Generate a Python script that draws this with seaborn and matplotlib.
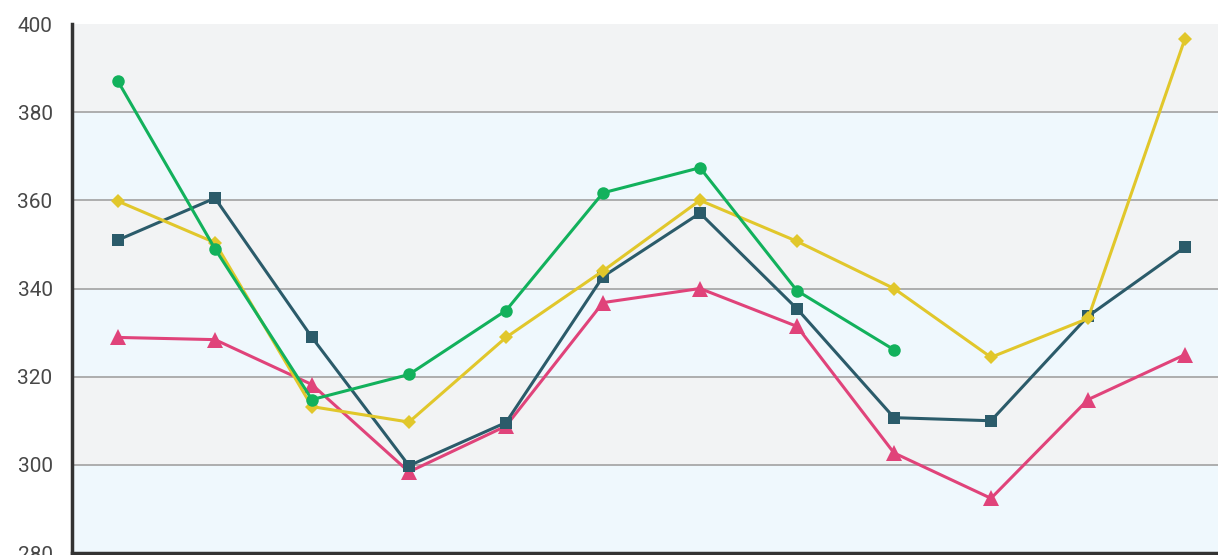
import pandas as pd
import matplotlib
matplotlib.use("Agg")
import matplotlib.pyplot as plt
import seaborn as sns

# Werte (12 Punkte pro Serie, Gruen endet nach Punkt 9)
points = list(range(12))
pink_values = [328.9, 328.4, 318.2, 298.4, 308.8, 336.8, 340.0, 331.4, 302.7, 292.4, 314.8, 325.0]
teal_values = [351.0, 360.5, 328.9, 299.8, 309.6, 342.7, 357.1, 335.4, 310.7, 310.0, 333.7, 349.4]
yellow_values = [359.8, 350.4, 313.2, 309.7, 328.9, 344.0, 360.0, 350.7, 340.0, 324.4, 333.2, 396.7]
green_values = [387.0, 349.0, 314.8, 320.5, 335.0, 361.7, 367.4, 339.5, 326.1, None, None, None]

y_ticks = [280, 300, 320, 340, 360, 380, 400]

series = [
    ("pink", pink_values, "#e0437a", "^", 11),
    ("teal", teal_values, "#2b5b6a", "s", 9),
    ("yellow", yellow_values, "#e1c72b", "D", 7),
    ("green", green_values, "#12b15c", "o", 9),
]

sns.set_style("white")
plt.rcParams['font.family'] = ['Roboto', 'DejaVu Sans']

fig = plt.figure(figsize=(12.18, 5.55), dpi=100)
ax = fig.add_axes([72 / 1218, 2 / 555, 1 - 72 / 1218, 529 / 555])

# abwechselnde Hintergrundbaender
band_colors = ["#eff8fd", "#f2f3f4"]
for i in range(len(y_ticks) - 1):
    ax.axhspan(y_ticks[i], y_ticks[i + 1], color=band_colors[i % 2], zorder=0, lw=0)
for t in y_ticks[1:-1]:
    ax.axhline(t, color="#a8a8a8", lw=1.3, zorder=1)

for name, vals, col, mk, ms in series:
    d = pd.DataFrame({"x": points, "y": vals}).dropna()
    sns.lineplot(data=d, x="x", y="y", ax=ax, color=col, marker=mk,
                 markersize=ms, markeredgewidth=0, linewidth=2.2, zorder=3)

ax.set_xlim(-0.474, 11.34)
ax.set_ylim(280, 400)
ax.set_yticks(y_ticks)
ax.set_xticks([])
ax.set_xlabel("")
ax.set_ylabel("")
ax.tick_params(axis="y", length=0, pad=14, labelsize=15, labelcolor="#484848")

for s in ["top", "right"]:
    ax.spines[s].set_visible(False)
ax.spines["left"].set_color("#333333")
ax.spines["left"].set_linewidth(2.5)
ax.spines["bottom"].set_color("#333333")
ax.spines["bottom"].set_linewidth(2.5)

fig.savefig("out.png", dpi=100)
